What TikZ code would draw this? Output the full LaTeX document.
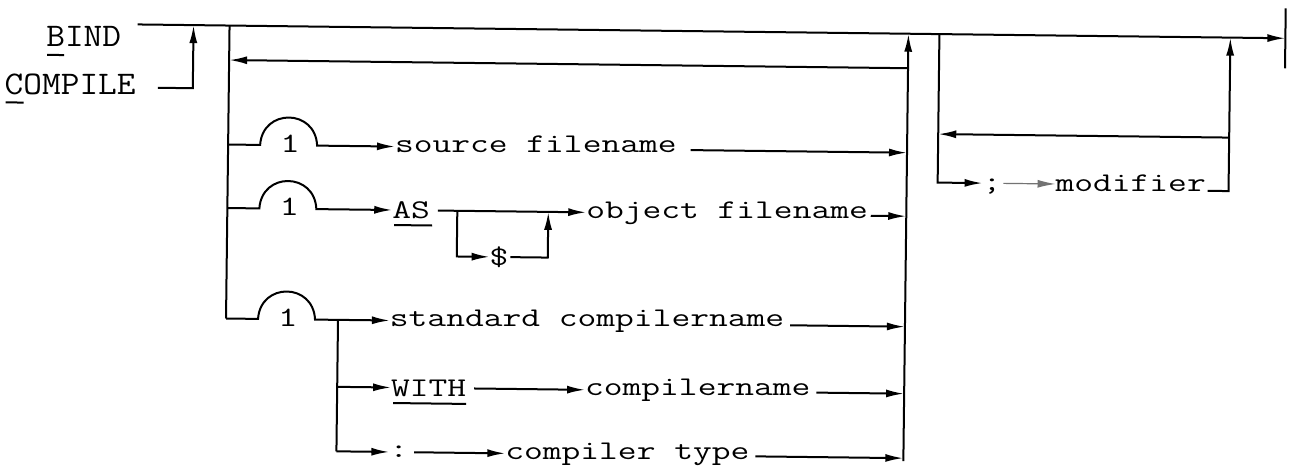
\documentclass[tikz,border=0pt]{standalone}
\usepackage{fontspec}
\usepackage{graphicx}
\usetikzlibrary{arrows.meta}
\newcommand{\tw}[1]{\scalebox{1.35}[1]{#1}}
\newcommand{\twb}[1]{\scalebox{1.1}[1]{#1}}
\begin{document}
\begin{tikzpicture}[x=1pt,y=-1pt,
  line width=2pt,
  ar/.style={-{Latex[length=18pt,width=8pt]}},
  lab/.style={font=\ttfamily\addfontfeatures{FakeBold=2.5}\fontsize{27}{32}\selectfont, inner sep=0pt, outer sep=0pt, anchor=base west},
  big/.style={font=\ttfamily\addfontfeatures{FakeBold=2.5}\fontsize{33}{38}\selectfont, inner sep=0pt, outer sep=0pt, anchor=base west},
  one/.style={font=\ttfamily\addfontfeatures{FakeBold=2.5}\fontsize{28}{32}\selectfont, inner sep=0pt, outer sep=0pt, anchor=base},
  ul/.style={line width=2pt},
  faint/.style={line width=1.2pt, black!55}
]
\useasboundingbox (0,0) rectangle (1293,472);
\begin{scope}[rotate around={-0.69:(640,240)}]
% row levels
\coordinate (yT) at (0,30.5);
\coordinate (yL) at (0,65);
\coordinate (y1) at (0,149.5);
\coordinate (y2) at (0,213);
\coordinate (yd) at (0,258.7);
\coordinate (y3) at (0,323.5);
\coordinate (y4) at (0,390.5);
\coordinate (y5) at (0,455);
\coordinate (ym) at (0,179);
\coordinate (yh) at (0,184);
\coordinate (yR) at (0,130.5);
% key columns
\coordinate (L) at (227,30.5);
\coordinate (R) at (906,30.5);
\coordinate (M) at (937,30.5);
\coordinate (Q) at (1228,30.5);
\coordinate (B) at (339,323.5);

% BIND / COMPILE
\node[big] (bind) at (44,53.7) {\twb{BIND}};
\node[big] (compile) at (3,102) {\twb{COMPILE}};
\draw[ul] (45,62) -- (62,62);
\draw[ul] (4,110) -- (22,110);
\coordinate (tstart) at (135,30.5);
\coordinate (tend) at (1283,30.5);
\draw[ar] (tstart) -- (tend);
\coordinate (termtop) at (1283,0.5);
\coordinate (termbot) at (1283,60.5);
\draw (termtop) -- (termbot);
\coordinate (c1) at (156,93.6);
\coordinate (c2) at (191,93.6);
\coordinate (c3) at (191,30.5);
\draw[ar] (c1) -- (c2) -- (c3);

% left and right verticals, loop
\draw (L) -- (L |- y3);
\draw[ar] (R |- yL) -- (L |- yL);
\draw[ar] (906,458) -- (R);

% row 1
\node[one] (one1) at (289,156.5) {\tw{1}};
\node[lab] (src) at (394,155.5) {\tw{source filename}};
\draw[ar] (L |- y1) -- (259,149.5) .. controls (261,112.5) and (314,112.5) .. (316,149.5) -- (src.west |- y1);
\draw[ar] (src.east |- y1) ++(14,0) -- (R |- y1);

% row 2
\node[one] (one2) at (289,220) {\tw{1}};
\node[lab] (as) at (392,221.5) {\tw{AS}};
\draw[ul] (394,228) -- (432,228);
\draw[ar] (L |- y2) -- (259,213) .. controls (261,176) and (314,176) .. (316,213) -- (as.west |- y2);
\node[lab] (dollar) at (490,267) {\tw{\$}};
\node[lab] (obj) at (586,219) {\tw{object filename}};
\coordinate (s1) at (457,213);
\coordinate (s2) at (548,213);
\draw[ar] (as.east |- y2) ++(8,0) -- (obj.west |- y2);
\draw[ar] (s1) -- (s1 |- yd) -- (dollar.west |- yd);
\draw[ar] (dollar.east |- yd) ++(2,0) -- (s2 |- yd) -- (s2);
\draw[ar] (obj.east |- y2) ++(3,0) -- (R |- y2);

% row 3
\node[one] (one3) at (289,330.5) {\tw{1}};
\node[lab] (std) at (391,329.5) {\tw{standard compilername}};
\draw[ar] (L |- y3) -- (259,323.5) .. controls (261,286.5) and (314,286.5) .. (316,323.5) -- (std.west |- y3);
\draw[ar] (std.east |- y3) ++(6,0) -- (R |- y3);
\draw (B) -- (B |- y5);

% row 4
\node[lab] (with) at (393,399.5) {\tw{WITH}};
\draw[ul] (395,406) -- (468,406);
\node[lab] (cn) at (587,396) {\tw{compilername}};
\draw[ar] (B |- y4) -- (with.west |- y4);
\draw[ar] (with.east |- y4) ++(8,0) -- (cn.west |- y4);
\draw[ar] (cn.east |- y4) ++(6,0) -- (R |- y4);

% row 5
\node[lab] (colon) at (392,461) {\tw{:}};
\node[lab] (ctype) at (508,461) {\tw{compiler type}};
\draw[ar] (B |- y5) -- (colon.west |- y5);
\draw[ar] (colon.east |- y5) ++(6,0) -- (ctype.west |- y5);
\draw[ar] (ctype.east |- y5) ++(6,0) -- (R |- y5);

% modifier part
\node[lab] (semi) at (982,186) {\tw{;}};
\node[lab] (mod) at (1055,186) {\tw{modifier}};
\draw[ar] (M) -- (M |- ym) -- (semi.west |- ym);
\draw[ar,faint] (semi.east |- ym) ++(2,0) -- (mod.west |- ym);
\draw[ar] (mod.east |- yh) ++(2,0) -- (Q |- yh) -- (Q);
\draw[ar] (Q |- yR) -- (M |- yR);
\end{scope}
\end{tikzpicture}
\end{document}
